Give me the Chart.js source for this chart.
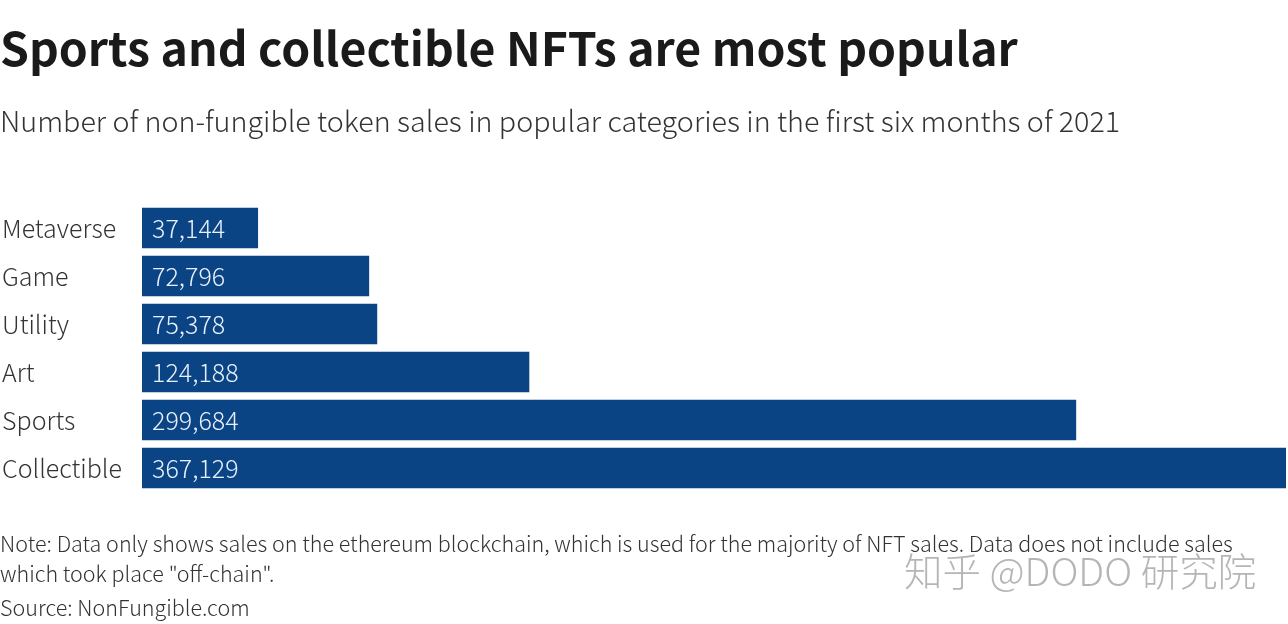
<!DOCTYPE html>
<html><head><meta charset="utf-8">
<style>
html,body{margin:0;padding:0;background:#fff;width:1288px;height:624px;overflow:hidden}
#wrap{position:absolute;left:0;top:0;width:1288px;height:624px}
canvas{display:block}
</style>
<script src="https://cdn.jsdelivr.net/npm/chart.js@4"></script>
</head><body>
<div id="wrap"><canvas id="c" width="1288" height="624"></canvas></div>
<script>
const categories=["Metaverse","Game","Utility","Art","Sports","Collectible"];
const sales=[37144,72796,75378,124188,299684,367129];
const valueLabels=["37,144","72,796","75,378","124,188","299,684","367,129"];
const titleText="Sports and collectible NFTs are most popular";
const subtitleText="Number of non-fungible token sales in popular categories in the first six months of 2021";
const noteLines=['Note: Data only shows sales on the ethereum blockchain, which is used for the majority of NFT sales. Data does not include sales','which took place "off-chain".','Source: NonFungible.com'];
const watermark="知乎 @DODO 研究院";
const FONT='"Noto Sans CJK SC","Noto Sans",sans-serif';
const overlay={id:'overlay',afterDatasetsDraw(ch){
 const c=ch.ctx;const m=ch.getDatasetMeta(0);c.save();
 c.textBaseline='middle';c.textAlign='left';c.fillStyle='#e8f0fa';c.font='300 25px '+FONT;
 m.data.forEach((b,i)=>c.fillText(valueLabels[i],ch.scales.x.left+10,b.y));
 c.restore();
},afterDraw(ch){
 const c=ch.ctx;c.save();c.textBaseline='alphabetic';c.textAlign='left';
 c.fillStyle='#1a1a1a';c.font='700 46.4px '+FONT;c.fillText(titleText,0,65.5);
 c.fillStyle='#333';c.font='300 28.7px '+FONT;c.fillText(subtitleText,0,132);
 c.fillStyle='#333';c.font='300 21.5px '+FONT;
 c.fillText(noteLines[0],0,552);c.fillText(noteLines[1],0,582);c.fillText(noteLines[2],0,616);
 c.fillStyle='rgba(150,150,150,0.7)';c.font='300 38.5px '+FONT;c.fillText(watermark,904,586);
 c.restore();
}};
new Chart(document.getElementById('c'),{type:'bar',
 data:{labels:categories,datasets:[{data:sales,backgroundColor:'#0a4485',borderWidth:0,barThickness:40}]},
 plugins:[overlay],
 options:{indexAxis:'y',responsive:false,animation:false,
  layout:{padding:{left:2,right:2,top:204,bottom:132}},
  plugins:{legend:{display:false},tooltip:{enabled:false}},
  scales:{
   x:{display:false,min:0,max:367129},
   y:{grid:{display:false},border:{display:false},
      afterFit(s){s.width=140},
      ticks:{mirror:false,crossAlign:'far',padding:0,color:'#333',font:{family:FONT,size:25,weight:'300'}}}
  }}});
</script></body></html>
